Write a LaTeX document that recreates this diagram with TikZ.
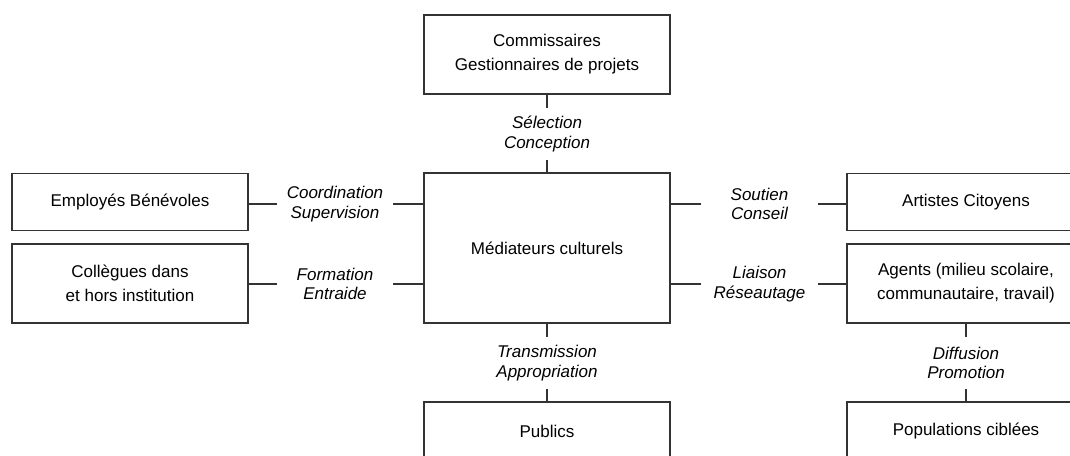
\documentclass[tikz,border=0pt]{standalone}
\usepackage{fontspec}
\setmainfont{Liberation Sans}
\usepackage{tikz}
\usetikzlibrary{positioning}

\begin{document}
\begin{tikzpicture}[x=1pt,y=-1pt]%
                    \useasboundingbox (0,0) rectangle (1070,455); %%
                    \clip (0,0) rectangle (1070,455); %%
                    \begin{scope}
                        \tikzstyle{every node}=[draw=black!80,line width=1.2pt,rectangle,align=center,inner sep=0pt,font=\fontsize{17}{24}\selectfont];%%
                        \node[minimum width=246pt,minimum height=79pt] (comm) at (547,54.5) {Commissaires\\Gestionnaires de projets}; %%
                        \node[minimum width=246pt,minimum height=150pt] (med) at (547,248) {M\'ediateurs culturels}; %%
                        \node[minimum width=236pt,minimum height=57pt] (empl) at (130,202) {Employ\'es B\'en\'evoles}; %%
                        \node[minimum width=236pt,minimum height=79pt] (coll) at (130,283.5) {Coll\`egues dans\\et hors institution}; %%
                        \node[minimum width=238pt,minimum height=57pt] (art) at (966,202) {Artistes Citoyens}; %%
                        \node[minimum width=238pt,minimum height=79pt] (agents) at (966,283.5) {Agents (milieu scolaire,\\communautaire, travail)}; %%
                        \node[minimum width=246pt,minimum height=58pt] (pub) at (547,431) {Publics}; %%
                        \node[minimum width=238pt,minimum height=58pt] (pop) at (966,431) {Populations cibl\'ees}; %%
                    \end{scope}
                    \begin{scope}
                        \tikzstyle{every node}=[align=center,inner sep=0pt,minimum width=116pt,minimum height=52pt,font=\fontsize{17}{19.5}\selectfont\itshape];%%
                        \node (selcon) at (547,134) {S\'election\\Conception}; %%
                        \node (coord) at (335,204) {Coordination\\Supervision}; %%
                        \node (form) at (335,284) {Formation\\Entraide}; %%
                        \node (sout) at (759.5,204) {Soutien\\Conseil}; %%
                        \node (liais) at (759.5,284) {Liaison\\R\'eseautage}; %%
                        \node (trans) at (547,363) {Transmission\\Appropriation}; %%
                        \node (diff) at (966,363) {Diffusion\\Promotion}; %%
                    \end{scope}
                        \tikzstyle{link}=[draw=black!80,line width=1.5pt]; %%
                        \draw[link] (comm)--(selcon); %%
                        \draw[link] (selcon)--(med); %%
                        \draw[link] (coord.west)--(coord.west -| empl.east); %%
                        \draw[link] (coord.east)--(coord.east -| med.west); %%
                        \draw[link] (form.west)--(form.west -| coll.east); %%
                        \draw[link] (form.east)--(form.east -| med.west); %%
                        \draw[link] (sout.west)--(sout.west -| med.east); %%
                        \draw[link] (sout.east)--(sout.east -| art.west); %%
                        \draw[link] (liais.west)--(liais.west -| med.east); %%
                        \draw[link] (liais.east)--(liais.east -| agents.west); %%
                        \draw[link] (med)--(trans); %%
                        \draw[link] (trans)--(pub); %%
                        \draw[link] (agents)--(diff); %%
                        \draw[link] (diff)--(pop); %%
                    \end{tikzpicture}
\end{document}
